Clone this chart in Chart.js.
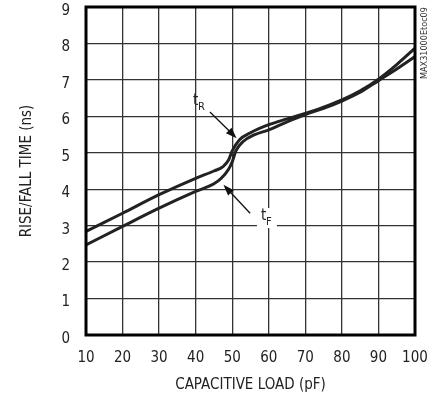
<!DOCTYPE html>
<html><head><meta charset="utf-8">
<script src="https://cdn.jsdelivr.net/npm/chart.js@4/dist/chart.umd.min.js"></script>
<style>html,body{margin:0;padding:0;background:#fff}#wrap{width:433px;height:403px}</style>
</head><body><div id="wrap"><canvas id="c" width="433" height="403"></canvas></div>
<script>
const xTicks = [10,20,30,40,50,60,70,80,90,100];
const yTicks = [0,1,2,3,4,5,6,7,8,9];
const tRLoad = [10,20,30,40,45,47.5,49,50,52,55,60,65,70,75,80,85,90,95,100];
const tRTime = [2.84,3.34,3.85,4.3,4.5,4.62,4.8,5.05,5.36,5.55,5.77,5.93,6.08,6.25,6.45,6.7,7.02,7.42,7.87];
const tFLoad = [10,20,30,40,45,47,49,50,51,53,56,60,65,70,75,80,85,90,95,100];
const tFTime = [2.47,2.98,3.48,3.94,4.15,4.3,4.55,4.75,5.05,5.31,5.49,5.63,5.85,6.05,6.22,6.42,6.66,6.98,7.3,7.64];
// annotation anchors in data units
const labelR = {x:40.9, y:6.37, sub:'R'};
const arrowR = {from:{x:43.9,y:6.12}, to:{x:51.2,y:5.4}};
const labelF = {x:59.5, y:3.21, sub:'F'};
const arrowF = {from:{x:54.9,y:3.34}, to:{x:47.6,y:4.12}};
const FAMILY = '"DejaVu Sans Condensed","DejaVu Sans",sans-serif';
const STYLE = 'condensed';

const toPts = (xs, ys) => xs.map((x,i)=>({x, y:ys[i]}));

const annot = {
  id:'annot',
  afterDatasetsDraw(chart){
    const {ctx, chartArea:a, scales:{x,y}} = chart;
    const px = p => ({X:x.getPixelForValue(p.x), Y:y.getPixelForValue(p.y)});
    ctx.save();
    [arrowR, arrowF].forEach(ar=>{
      const f = px(ar.from), t = px(ar.to);
      const ang = Math.atan2(t.Y-f.Y, t.X-f.X);
      const L = 11, W = 4;
      ctx.strokeStyle='#111'; ctx.lineWidth=1.3;
      ctx.beginPath(); ctx.moveTo(f.X,f.Y);
      ctx.lineTo(t.X - Math.cos(ang)*L*0.8, t.Y - Math.sin(ang)*L*0.8); ctx.stroke();
      ctx.fillStyle='#111';
      ctx.beginPath(); ctx.moveTo(t.X,t.Y);
      ctx.lineTo(t.X - Math.cos(ang)*L - Math.sin(ang)*W, t.Y - Math.sin(ang)*L + Math.cos(ang)*W);
      ctx.lineTo(t.X - Math.cos(ang)*L + Math.sin(ang)*W, t.Y - Math.sin(ang)*L - Math.cos(ang)*W);
      ctx.closePath(); ctx.fill();
    });
    [labelR, labelF].forEach((lb,i)=>{
      const p = px(lb);
      if (i===1){ ctx.fillStyle='#fff'; ctx.fillRect(p.X-10, p.Y-10, 20, 20); }
      ctx.fillStyle='#222';
      ctx.textBaseline='middle'; ctx.textAlign='left';
      ctx.font = STYLE+' 15px '+FAMILY;
      ctx.fillText('t', p.X-6, p.Y-2);
      ctx.font = STYLE+' 11px '+FAMILY;
      ctx.fillText(lb.sub, p.X-1, p.Y+4);
    });
    ctx.strokeStyle='#000'; ctx.lineWidth=3;
    ctx.strokeRect(a.left, a.top, a.right-a.left, a.bottom-a.top);
    ctx.translate(425, 43); ctx.rotate(-Math.PI/2);
    ctx.font = STYLE+' 9px '+FAMILY; ctx.fillStyle='#333'; ctx.textAlign='center'; ctx.textBaseline='middle';
    ctx.fillText('MAX31000Etoc09', 0, 0);
    ctx.restore();
  }
};

const tickFont = {family:FAMILY, size:15, style:STYLE};

new Chart(document.getElementById('c'), {
  type:'scatter',
  data:{datasets:[
    {label:'tR', data:toPts(tRLoad,tRTime), showLine:true, borderColor:'#222', borderWidth:3, pointRadius:0, cubicInterpolationMode:'monotone'},
    {label:'tF', data:toPts(tFLoad,tFTime), showLine:true, borderColor:'#222', borderWidth:3, pointRadius:0, cubicInterpolationMode:'monotone'}
  ]},
  options:{
    responsive:false, animation:false, devicePixelRatio:1,
    layout:{padding:{left:0,right:18,top:7,bottom:0}},
    plugins:{legend:{display:false}, tooltip:{enabled:false}},
    scales:{
      x:{type:'linear', min:10, max:100,
        afterBuildTicks:s=>{s.ticks = xTicks.map(v=>({value:v}));},
        afterFit:s=>{s.height=68; s.paddingLeft=0; s.paddingRight=0;},
        grid:{color:'#333', lineWidth:1.3, drawTicks:false},
        border:{display:false},
        ticks:{color:'#222', padding:14, font:tickFont, maxRotation:0, autoSkip:false},
        title:{display:true, text:'CAPACITIVE LOAD (pF)', color:'#222', font:tickFont, padding:{top:0,bottom:9}}
      },
      y:{type:'linear', min:0, max:9,
        afterBuildTicks:s=>{s.ticks = yTicks.map(v=>({value:v}));},
        afterFit:s=>{s.width=86; s.paddingTop=0; s.paddingBottom=0;},
        grid:{color:'#333', lineWidth:1.3, drawTicks:false},
        border:{display:false},
        ticks:{color:'#222', padding:16, labelOffset:4, font:tickFont, autoSkip:false},
        title:{display:true, text:'RISE/FALL TIME (ns)', color:'#222', font:tickFont, padding:{top:18,bottom:0}}
      }
    }
  },
  plugins:[annot]
});
</script></body></html>
